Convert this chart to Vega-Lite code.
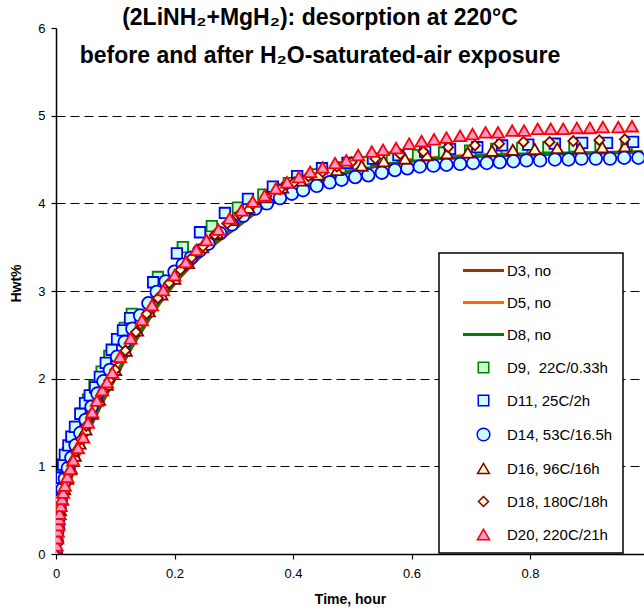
{
  "$schema": "https://vega.github.io/schema/vega-lite/v6.json",
  "width": 588,
  "height": 526,
  "autosize": {"type": "none"},
  "padding": {"left": 56, "top": 28, "right": 0, "bottom": 59},
  "background": "white",
  "title": {
    "text": ["(2LiNH₂+MgH₂): desorption at 220°C", "before and after H₂O-saturated-air exposure"],
    "font": "Liberation Sans",
    "fontSize": 23,
    "fontWeight": "bold",
    "color": "black",
    "anchor": "middle",
    "frame": "group",
    "baseline": "alphabetic",
    "lineHeight": 38,
    "offset": 0,
    "dx": -30,
    "dy": 64
  },
  "datasets": {
    "frame": [{"t": 0, "t2": 0.032}, {"t": 0.898, "t2": 0.9924}],
    "lines": [
      {"s": "D3, no", "t": 0, "h": 0}, {"s": "D3, no", "t": 0.005, "h": 0.3}, {"s": "D3, no", "t": 0.01, "h": 0.45}, {"s": "D3, no", "t": 0.02, "h": 0.72}, {"s": "D3, no", "t": 0.03, "h": 0.96}, {"s": "D3, no", "t": 0.04, "h": 1.15}, {"s": "D3, no", "t": 0.05, "h": 1.32}, {"s": "D3, no", "t": 0.075, "h": 1.68}, {"s": "D3, no", "t": 0.1, "h": 2.0}, {"s": "D3, no", "t": 0.125, "h": 2.32}, {"s": "D3, no", "t": 0.15, "h": 2.6}, {"s": "D3, no", "t": 0.175, "h": 2.86}, {"s": "D3, no", "t": 0.2, "h": 3.08}, {"s": "D3, no", "t": 0.25, "h": 3.43}, {"s": "D3, no", "t": 0.3, "h": 3.7}, {"s": "D3, no", "t": 0.35, "h": 3.95}, {"s": "D3, no", "t": 0.4, "h": 4.12}, {"s": "D3, no", "t": 0.45, "h": 4.26}, {"s": "D3, no", "t": 0.5, "h": 4.36}, {"s": "D3, no", "t": 0.55, "h": 4.43}, {"s": "D3, no", "t": 0.6, "h": 4.48}, {"s": "D3, no", "t": 0.65, "h": 4.51}, {"s": "D3, no", "t": 0.7, "h": 4.53}, {"s": "D3, no", "t": 0.8, "h": 4.55}, {"s": "D3, no", "t": 0.9, "h": 4.57}, {"s": "D3, no", "t": 0.99, "h": 4.58},
      {"s": "D5, no", "t": 0, "h": 0}, {"s": "D5, no", "t": 0.005, "h": 0.32}, {"s": "D5, no", "t": 0.01, "h": 0.48}, {"s": "D5, no", "t": 0.02, "h": 0.76}, {"s": "D5, no", "t": 0.03, "h": 1.0}, {"s": "D5, no", "t": 0.04, "h": 1.19}, {"s": "D5, no", "t": 0.05, "h": 1.36}, {"s": "D5, no", "t": 0.075, "h": 1.72}, {"s": "D5, no", "t": 0.1, "h": 2.04}, {"s": "D5, no", "t": 0.125, "h": 2.36}, {"s": "D5, no", "t": 0.15, "h": 2.64}, {"s": "D5, no", "t": 0.175, "h": 2.9}, {"s": "D5, no", "t": 0.2, "h": 3.12}, {"s": "D5, no", "t": 0.25, "h": 3.47}, {"s": "D5, no", "t": 0.3, "h": 3.73}, {"s": "D5, no", "t": 0.35, "h": 3.97}, {"s": "D5, no", "t": 0.4, "h": 4.14}, {"s": "D5, no", "t": 0.45, "h": 4.28}, {"s": "D5, no", "t": 0.5, "h": 4.38}, {"s": "D5, no", "t": 0.55, "h": 4.45}, {"s": "D5, no", "t": 0.6, "h": 4.5}, {"s": "D5, no", "t": 0.65, "h": 4.53}, {"s": "D5, no", "t": 0.7, "h": 4.55}, {"s": "D5, no", "t": 0.8, "h": 4.57}, {"s": "D5, no", "t": 0.9, "h": 4.58}, {"s": "D5, no", "t": 0.99, "h": 4.59},
      {"s": "D8, no", "t": 0, "h": 0}, {"s": "D8, no", "t": 0.005, "h": 0.31}, {"s": "D8, no", "t": 0.01, "h": 0.47}, {"s": "D8, no", "t": 0.02, "h": 0.74}, {"s": "D8, no", "t": 0.03, "h": 0.98}, {"s": "D8, no", "t": 0.04, "h": 1.17}, {"s": "D8, no", "t": 0.05, "h": 1.34}, {"s": "D8, no", "t": 0.075, "h": 1.7}, {"s": "D8, no", "t": 0.1, "h": 2.02}, {"s": "D8, no", "t": 0.125, "h": 2.34}, {"s": "D8, no", "t": 0.15, "h": 2.62}, {"s": "D8, no", "t": 0.175, "h": 2.88}, {"s": "D8, no", "t": 0.2, "h": 3.1}, {"s": "D8, no", "t": 0.25, "h": 3.45}, {"s": "D8, no", "t": 0.3, "h": 3.72}, {"s": "D8, no", "t": 0.35, "h": 3.96}, {"s": "D8, no", "t": 0.4, "h": 4.13}, {"s": "D8, no", "t": 0.45, "h": 4.27}, {"s": "D8, no", "t": 0.5, "h": 4.37}, {"s": "D8, no", "t": 0.55, "h": 4.44}, {"s": "D8, no", "t": 0.6, "h": 4.49}, {"s": "D8, no", "t": 0.65, "h": 4.52}, {"s": "D8, no", "t": 0.7, "h": 4.54}, {"s": "D8, no", "t": 0.8, "h": 4.56}, {"s": "D8, no", "t": 0.9, "h": 4.575}, {"s": "D8, no", "t": 0.99, "h": 4.585}
    ],
    "pts": [
      {"s": "D9,\u00a0 22C/0.33h", "t": 0, "h": 0}, {"s": "D9,\u00a0 22C/0.33h", "t": 0.002, "h": 0.3}, {"s": "D9,\u00a0 22C/0.33h", "t": 0.004, "h": 0.5}, {"s": "D9,\u00a0 22C/0.33h", "t": 0.007, "h": 0.7}, {"s": "D9,\u00a0 22C/0.33h", "t": 0.01, "h": 0.85}, {"s": "D9,\u00a0 22C/0.33h", "t": 0.014, "h": 1.0}, {"s": "D9,\u00a0 22C/0.33h", "t": 0.02, "h": 1.15}, {"s": "D9,\u00a0 22C/0.33h", "t": 0.027, "h": 1.3}, {"s": "D9,\u00a0 22C/0.33h", "t": 0.035, "h": 1.45}, {"s": "D9,\u00a0 22C/0.33h", "t": 0.044, "h": 1.6}, {"s": "D9,\u00a0 22C/0.33h", "t": 0.054, "h": 1.76}, {"s": "D9,\u00a0 22C/0.33h", "t": 0.065, "h": 1.92}, {"s": "D9,\u00a0 22C/0.33h", "t": 0.077, "h": 2.08}, {"s": "D9,\u00a0 22C/0.33h", "t": 0.09, "h": 2.26}, {"s": "D9,\u00a0 22C/0.33h", "t": 0.104, "h": 2.44}, {"s": "D9,\u00a0 22C/0.33h", "t": 0.116, "h": 2.58}, {"s": "D9,\u00a0 22C/0.33h", "t": 0.128, "h": 2.74}, {"s": "D9,\u00a0 22C/0.33h", "t": 0.172, "h": 3.16}, {"s": "D9,\u00a0 22C/0.33h", "t": 0.214, "h": 3.5}, {"s": "D9,\u00a0 22C/0.33h", "t": 0.263, "h": 3.74}, {"s": "D9,\u00a0 22C/0.33h", "t": 0.307, "h": 3.95}, {"s": "D9,\u00a0 22C/0.33h", "t": 0.35, "h": 4.1}, {"s": "D9,\u00a0 22C/0.33h", "t": 0.393, "h": 4.23}, {"s": "D9,\u00a0 22C/0.33h", "t": 0.436, "h": 4.33}, {"s": "D9,\u00a0 22C/0.33h", "t": 0.48, "h": 4.41}, {"s": "D9,\u00a0 22C/0.33h", "t": 0.523, "h": 4.47}, {"s": "D9,\u00a0 22C/0.33h", "t": 0.567, "h": 4.52}, {"s": "D9,\u00a0 22C/0.33h", "t": 0.611, "h": 4.55}, {"s": "D9,\u00a0 22C/0.33h", "t": 0.655, "h": 4.58}, {"s": "D9,\u00a0 22C/0.33h", "t": 0.699, "h": 4.6}, {"s": "D9,\u00a0 22C/0.33h", "t": 0.743, "h": 4.62}, {"s": "D9,\u00a0 22C/0.33h", "t": 0.787, "h": 4.63}, {"s": "D9,\u00a0 22C/0.33h", "t": 0.831, "h": 4.64}, {"s": "D9,\u00a0 22C/0.33h", "t": 0.875, "h": 4.65}, {"s": "D9,\u00a0 22C/0.33h", "t": 0.919, "h": 4.66}, {"s": "D9,\u00a0 22C/0.33h", "t": 0.963, "h": 4.66},
      {"s": "D11, 25C/2h", "t": 0, "h": 0}, {"s": "D11, 25C/2h", "t": 0.001, "h": 0.2}, {"s": "D11, 25C/2h", "t": 0.002, "h": 0.35}, {"s": "D11, 25C/2h", "t": 0.003, "h": 0.45}, {"s": "D11, 25C/2h", "t": 0.005, "h": 0.6}, {"s": "D11, 25C/2h", "t": 0.007, "h": 0.75}, {"s": "D11, 25C/2h", "t": 0.009, "h": 0.87}, {"s": "D11, 25C/2h", "t": 0.012, "h": 1.02}, {"s": "D11, 25C/2h", "t": 0.015, "h": 1.13}, {"s": "D11, 25C/2h", "t": 0.021, "h": 1.24}, {"s": "D11, 25C/2h", "t": 0.026, "h": 1.34}, {"s": "D11, 25C/2h", "t": 0.032, "h": 1.45}, {"s": "D11, 25C/2h", "t": 0.041, "h": 1.6}, {"s": "D11, 25C/2h", "t": 0.049, "h": 1.72}, {"s": "D11, 25C/2h", "t": 0.057, "h": 1.81}, {"s": "D11, 25C/2h", "t": 0.066, "h": 1.9}, {"s": "D11, 25C/2h", "t": 0.074, "h": 2.02}, {"s": "D11, 25C/2h", "t": 0.084, "h": 2.18}, {"s": "D11, 25C/2h", "t": 0.094, "h": 2.33}, {"s": "D11, 25C/2h", "t": 0.103, "h": 2.45}, {"s": "D11, 25C/2h", "t": 0.113, "h": 2.55}, {"s": "D11, 25C/2h", "t": 0.125, "h": 2.69}, {"s": "D11, 25C/2h", "t": 0.164, "h": 3.1}, {"s": "D11, 25C/2h", "t": 0.204, "h": 3.43}, {"s": "D11, 25C/2h", "t": 0.243, "h": 3.67}, {"s": "D11, 25C/2h", "t": 0.285, "h": 3.89}, {"s": "D11, 25C/2h", "t": 0.324, "h": 4.05}, {"s": "D11, 25C/2h", "t": 0.366, "h": 4.19}, {"s": "D11, 25C/2h", "t": 0.407, "h": 4.31}, {"s": "D11, 25C/2h", "t": 0.449, "h": 4.4}, {"s": "D11, 25C/2h", "t": 0.492, "h": 4.46}, {"s": "D11, 25C/2h", "t": 0.535, "h": 4.51}, {"s": "D11, 25C/2h", "t": 0.578, "h": 4.55}, {"s": "D11, 25C/2h", "t": 0.623, "h": 4.59}, {"s": "D11, 25C/2h", "t": 0.665, "h": 4.62}, {"s": "D11, 25C/2h", "t": 0.711, "h": 4.64}, {"s": "D11, 25C/2h", "t": 0.753, "h": 4.66}, {"s": "D11, 25C/2h", "t": 0.797, "h": 4.67}, {"s": "D11, 25C/2h", "t": 0.842, "h": 4.68}, {"s": "D11, 25C/2h", "t": 0.888, "h": 4.69}, {"s": "D11, 25C/2h", "t": 0.93, "h": 4.69}, {"s": "D11, 25C/2h", "t": 0.974, "h": 4.7},
      {"s": "D14, 53C/16.5h", "t": 0, "h": 0}, {"s": "D14, 53C/16.5h", "t": 0.001, "h": 0.15}, {"s": "D14, 53C/16.5h", "t": 0.002, "h": 0.25}, {"s": "D14, 53C/16.5h", "t": 0.003, "h": 0.33}, {"s": "D14, 53C/16.5h", "t": 0.004, "h": 0.4}, {"s": "D14, 53C/16.5h", "t": 0.006, "h": 0.52}, {"s": "D14, 53C/16.5h", "t": 0.008, "h": 0.62}, {"s": "D14, 53C/16.5h", "t": 0.011, "h": 0.74}, {"s": "D14, 53C/16.5h", "t": 0.015, "h": 0.86}, {"s": "D14, 53C/16.5h", "t": 0.02, "h": 0.98}, {"s": "D14, 53C/16.5h", "t": 0.026, "h": 1.1}, {"s": "D14, 53C/16.5h", "t": 0.033, "h": 1.24}, {"s": "D14, 53C/16.5h", "t": 0.041, "h": 1.38}, {"s": "D14, 53C/16.5h", "t": 0.05, "h": 1.53}, {"s": "D14, 53C/16.5h", "t": 0.06, "h": 1.68}, {"s": "D14, 53C/16.5h", "t": 0.07, "h": 1.83}, {"s": "D14, 53C/16.5h", "t": 0.08, "h": 1.97}, {"s": "D14, 53C/16.5h", "t": 0.091, "h": 2.1}, {"s": "D14, 53C/16.5h", "t": 0.103, "h": 2.25}, {"s": "D14, 53C/16.5h", "t": 0.116, "h": 2.42}, {"s": "D14, 53C/16.5h", "t": 0.129, "h": 2.57}, {"s": "D14, 53C/16.5h", "t": 0.142, "h": 2.72}, {"s": "D14, 53C/16.5h", "t": 0.156, "h": 2.86}, {"s": "D14, 53C/16.5h", "t": 0.17, "h": 2.99}, {"s": "D14, 53C/16.5h", "t": 0.185, "h": 3.11}, {"s": "D14, 53C/16.5h", "t": 0.2, "h": 3.22}, {"s": "D14, 53C/16.5h", "t": 0.214, "h": 3.3}, {"s": "D14, 53C/16.5h", "t": 0.228, "h": 3.38}, {"s": "D14, 53C/16.5h", "t": 0.242, "h": 3.46}, {"s": "D14, 53C/16.5h", "t": 0.257, "h": 3.54}, {"s": "D14, 53C/16.5h", "t": 0.277, "h": 3.66}, {"s": "D14, 53C/16.5h", "t": 0.297, "h": 3.76}, {"s": "D14, 53C/16.5h", "t": 0.316, "h": 3.86}, {"s": "D14, 53C/16.5h", "t": 0.336, "h": 3.94}, {"s": "D14, 53C/16.5h", "t": 0.356, "h": 4.0}, {"s": "D14, 53C/16.5h", "t": 0.378, "h": 4.06}, {"s": "D14, 53C/16.5h", "t": 0.398, "h": 4.11}, {"s": "D14, 53C/16.5h", "t": 0.417, "h": 4.15}, {"s": "D14, 53C/16.5h", "t": 0.44, "h": 4.2}, {"s": "D14, 53C/16.5h", "t": 0.462, "h": 4.24}, {"s": "D14, 53C/16.5h", "t": 0.482, "h": 4.27}, {"s": "D14, 53C/16.5h", "t": 0.505, "h": 4.3}, {"s": "D14, 53C/16.5h", "t": 0.527, "h": 4.32}, {"s": "D14, 53C/16.5h", "t": 0.55, "h": 4.35}, {"s": "D14, 53C/16.5h", "t": 0.572, "h": 4.38}, {"s": "D14, 53C/16.5h", "t": 0.593, "h": 4.4}, {"s": "D14, 53C/16.5h", "t": 0.614, "h": 4.42}, {"s": "D14, 53C/16.5h", "t": 0.637, "h": 4.43}, {"s": "D14, 53C/16.5h", "t": 0.659, "h": 4.44}, {"s": "D14, 53C/16.5h", "t": 0.682, "h": 4.45}, {"s": "D14, 53C/16.5h", "t": 0.704, "h": 4.46}, {"s": "D14, 53C/16.5h", "t": 0.727, "h": 4.46}, {"s": "D14, 53C/16.5h", "t": 0.749, "h": 4.47}, {"s": "D14, 53C/16.5h", "t": 0.772, "h": 4.48}, {"s": "D14, 53C/16.5h", "t": 0.794, "h": 4.49}, {"s": "D14, 53C/16.5h", "t": 0.817, "h": 4.49}, {"s": "D14, 53C/16.5h", "t": 0.842, "h": 4.5}, {"s": "D14, 53C/16.5h", "t": 0.865, "h": 4.5}, {"s": "D14, 53C/16.5h", "t": 0.887, "h": 4.51}, {"s": "D14, 53C/16.5h", "t": 0.911, "h": 4.51}, {"s": "D14, 53C/16.5h", "t": 0.935, "h": 4.51}, {"s": "D14, 53C/16.5h", "t": 0.959, "h": 4.52}, {"s": "D14, 53C/16.5h", "t": 0.983, "h": 4.52},
      {"s": "D16, 96C/16h", "t": 0, "h": 0}, {"s": "D16, 96C/16h", "t": 0.002, "h": 0.2}, {"s": "D16, 96C/16h", "t": 0.004, "h": 0.35}, {"s": "D16, 96C/16h", "t": 0.007, "h": 0.5}, {"s": "D16, 96C/16h", "t": 0.01, "h": 0.62}, {"s": "D16, 96C/16h", "t": 0.014, "h": 0.74}, {"s": "D16, 96C/16h", "t": 0.019, "h": 0.86}, {"s": "D16, 96C/16h", "t": 0.025, "h": 0.98}, {"s": "D16, 96C/16h", "t": 0.032, "h": 1.12}, {"s": "D16, 96C/16h", "t": 0.04, "h": 1.26}, {"s": "D16, 96C/16h", "t": 0.05, "h": 1.42}, {"s": "D16, 96C/16h", "t": 0.061, "h": 1.6}, {"s": "D16, 96C/16h", "t": 0.073, "h": 1.76}, {"s": "D16, 96C/16h", "t": 0.086, "h": 1.93}, {"s": "D16, 96C/16h", "t": 0.1, "h": 2.1}, {"s": "D16, 96C/16h", "t": 0.118, "h": 2.32}, {"s": "D16, 96C/16h", "t": 0.137, "h": 2.55}, {"s": "D16, 96C/16h", "t": 0.157, "h": 2.77}, {"s": "D16, 96C/16h", "t": 0.178, "h": 2.96}, {"s": "D16, 96C/16h", "t": 0.2, "h": 3.14}, {"s": "D16, 96C/16h", "t": 0.223, "h": 3.32}, {"s": "D16, 96C/16h", "t": 0.247, "h": 3.5}, {"s": "D16, 96C/16h", "t": 0.272, "h": 3.66}, {"s": "D16, 96C/16h", "t": 0.298, "h": 3.81}, {"s": "D16, 96C/16h", "t": 0.325, "h": 3.95}, {"s": "D16, 96C/16h", "t": 0.353, "h": 4.07}, {"s": "D16, 96C/16h", "t": 0.382, "h": 4.18}, {"s": "D16, 96C/16h", "t": 0.412, "h": 4.26}, {"s": "D16, 96C/16h", "t": 0.443, "h": 4.33}, {"s": "D16, 96C/16h", "t": 0.474, "h": 4.38}, {"s": "D16, 96C/16h", "t": 0.516, "h": 4.43}, {"s": "D16, 96C/16h", "t": 0.553, "h": 4.48}, {"s": "D16, 96C/16h", "t": 0.589, "h": 4.51}, {"s": "D16, 96C/16h", "t": 0.626, "h": 4.55}, {"s": "D16, 96C/16h", "t": 0.66, "h": 4.57}, {"s": "D16, 96C/16h", "t": 0.695, "h": 4.58}, {"s": "D16, 96C/16h", "t": 0.736, "h": 4.6}, {"s": "D16, 96C/16h", "t": 0.771, "h": 4.61}, {"s": "D16, 96C/16h", "t": 0.808, "h": 4.62}, {"s": "D16, 96C/16h", "t": 0.846, "h": 4.63}, {"s": "D16, 96C/16h", "t": 0.884, "h": 4.63}, {"s": "D16, 96C/16h", "t": 0.922, "h": 4.64}, {"s": "D16, 96C/16h", "t": 0.96, "h": 4.65},
      {"s": "D18, 180C/18h", "t": 0, "h": 0}, {"s": "D18, 180C/18h", "t": 0.002, "h": 0.18}, {"s": "D18, 180C/18h", "t": 0.004, "h": 0.33}, {"s": "D18, 180C/18h", "t": 0.006, "h": 0.45}, {"s": "D18, 180C/18h", "t": 0.009, "h": 0.58}, {"s": "D18, 180C/18h", "t": 0.012, "h": 0.68}, {"s": "D18, 180C/18h", "t": 0.016, "h": 0.8}, {"s": "D18, 180C/18h", "t": 0.021, "h": 0.91}, {"s": "D18, 180C/18h", "t": 0.027, "h": 1.04}, {"s": "D18, 180C/18h", "t": 0.034, "h": 1.17}, {"s": "D18, 180C/18h", "t": 0.042, "h": 1.31}, {"s": "D18, 180C/18h", "t": 0.051, "h": 1.46}, {"s": "D18, 180C/18h", "t": 0.06, "h": 1.6}, {"s": "D18, 180C/18h", "t": 0.07, "h": 1.74}, {"s": "D18, 180C/18h", "t": 0.08, "h": 1.86}, {"s": "D18, 180C/18h", "t": 0.09, "h": 1.98}, {"s": "D18, 180C/18h", "t": 0.1, "h": 2.1}, {"s": "D18, 180C/18h", "t": 0.117, "h": 2.32}, {"s": "D18, 180C/18h", "t": 0.135, "h": 2.53}, {"s": "D18, 180C/18h", "t": 0.153, "h": 2.74}, {"s": "D18, 180C/18h", "t": 0.172, "h": 2.92}, {"s": "D18, 180C/18h", "t": 0.191, "h": 3.09}, {"s": "D18, 180C/18h", "t": 0.21, "h": 3.24}, {"s": "D18, 180C/18h", "t": 0.229, "h": 3.38}, {"s": "D18, 180C/18h", "t": 0.248, "h": 3.51}, {"s": "D18, 180C/18h", "t": 0.268, "h": 3.64}, {"s": "D18, 180C/18h", "t": 0.289, "h": 3.77}, {"s": "D18, 180C/18h", "t": 0.31, "h": 3.88}, {"s": "D18, 180C/18h", "t": 0.332, "h": 3.99}, {"s": "D18, 180C/18h", "t": 0.355, "h": 4.08}, {"s": "D18, 180C/18h", "t": 0.378, "h": 4.16}, {"s": "D18, 180C/18h", "t": 0.402, "h": 4.24}, {"s": "D18, 180C/18h", "t": 0.426, "h": 4.31}, {"s": "D18, 180C/18h", "t": 0.45, "h": 4.36}, {"s": "D18, 180C/18h", "t": 0.474, "h": 4.42}, {"s": "D18, 180C/18h", "t": 0.499, "h": 4.47}, {"s": "D18, 180C/18h", "t": 0.539, "h": 4.51}, {"s": "D18, 180C/18h", "t": 0.581, "h": 4.56}, {"s": "D18, 180C/18h", "t": 0.62, "h": 4.59}, {"s": "D18, 180C/18h", "t": 0.662, "h": 4.64}, {"s": "D18, 180C/18h", "t": 0.707, "h": 4.66}, {"s": "D18, 180C/18h", "t": 0.748, "h": 4.68}, {"s": "D18, 180C/18h", "t": 0.789, "h": 4.7}, {"s": "D18, 180C/18h", "t": 0.833, "h": 4.7}, {"s": "D18, 180C/18h", "t": 0.873, "h": 4.71}, {"s": "D18, 180C/18h", "t": 0.917, "h": 4.72}, {"s": "D18, 180C/18h", "t": 0.96, "h": 4.73},
      {"s": "D20, 220C/21h", "t": 0, "h": 0}, {"s": "D20, 220C/21h", "t": 0.001, "h": 0.1}, {"s": "D20, 220C/21h", "t": 0.002, "h": 0.18}, {"s": "D20, 220C/21h", "t": 0.003, "h": 0.26}, {"s": "D20, 220C/21h", "t": 0.004, "h": 0.33}, {"s": "D20, 220C/21h", "t": 0.005, "h": 0.4}, {"s": "D20, 220C/21h", "t": 0.006, "h": 0.46}, {"s": "D20, 220C/21h", "t": 0.008, "h": 0.55}, {"s": "D20, 220C/21h", "t": 0.01, "h": 0.63}, {"s": "D20, 220C/21h", "t": 0.012, "h": 0.7}, {"s": "D20, 220C/21h", "t": 0.015, "h": 0.78}, {"s": "D20, 220C/21h", "t": 0.019, "h": 0.88}, {"s": "D20, 220C/21h", "t": 0.024, "h": 0.97}, {"s": "D20, 220C/21h", "t": 0.029, "h": 1.07}, {"s": "D20, 220C/21h", "t": 0.037, "h": 1.21}, {"s": "D20, 220C/21h", "t": 0.046, "h": 1.33}, {"s": "D20, 220C/21h", "t": 0.054, "h": 1.5}, {"s": "D20, 220C/21h", "t": 0.061, "h": 1.62}, {"s": "D20, 220C/21h", "t": 0.069, "h": 1.75}, {"s": "D20, 220C/21h", "t": 0.078, "h": 1.87}, {"s": "D20, 220C/21h", "t": 0.086, "h": 1.96}, {"s": "D20, 220C/21h", "t": 0.095, "h": 2.07}, {"s": "D20, 220C/21h", "t": 0.108, "h": 2.25}, {"s": "D20, 220C/21h", "t": 0.126, "h": 2.46}, {"s": "D20, 220C/21h", "t": 0.145, "h": 2.67}, {"s": "D20, 220C/21h", "t": 0.162, "h": 2.84}, {"s": "D20, 220C/21h", "t": 0.181, "h": 3.01}, {"s": "D20, 220C/21h", "t": 0.2, "h": 3.18}, {"s": "D20, 220C/21h", "t": 0.219, "h": 3.33}, {"s": "D20, 220C/21h", "t": 0.237, "h": 3.47}, {"s": "D20, 220C/21h", "t": 0.254, "h": 3.58}, {"s": "D20, 220C/21h", "t": 0.274, "h": 3.7}, {"s": "D20, 220C/21h", "t": 0.293, "h": 3.83}, {"s": "D20, 220C/21h", "t": 0.313, "h": 3.92}, {"s": "D20, 220C/21h", "t": 0.332, "h": 4.02}, {"s": "D20, 220C/21h", "t": 0.352, "h": 4.09}, {"s": "D20, 220C/21h", "t": 0.371, "h": 4.17}, {"s": "D20, 220C/21h", "t": 0.39, "h": 4.24}, {"s": "D20, 220C/21h", "t": 0.41, "h": 4.3}, {"s": "D20, 220C/21h", "t": 0.429, "h": 4.36}, {"s": "D20, 220C/21h", "t": 0.45, "h": 4.41}, {"s": "D20, 220C/21h", "t": 0.471, "h": 4.46}, {"s": "D20, 220C/21h", "t": 0.49, "h": 4.49}, {"s": "D20, 220C/21h", "t": 0.51, "h": 4.55}, {"s": "D20, 220C/21h", "t": 0.533, "h": 4.59}, {"s": "D20, 220C/21h", "t": 0.552, "h": 4.61}, {"s": "D20, 220C/21h", "t": 0.574, "h": 4.63}, {"s": "D20, 220C/21h", "t": 0.596, "h": 4.68}, {"s": "D20, 220C/21h", "t": 0.617, "h": 4.71}, {"s": "D20, 220C/21h", "t": 0.638, "h": 4.73}, {"s": "D20, 220C/21h", "t": 0.659, "h": 4.75}, {"s": "D20, 220C/21h", "t": 0.682, "h": 4.77}, {"s": "D20, 220C/21h", "t": 0.703, "h": 4.79}, {"s": "D20, 220C/21h", "t": 0.725, "h": 4.81}, {"s": "D20, 220C/21h", "t": 0.746, "h": 4.81}, {"s": "D20, 220C/21h", "t": 0.77, "h": 4.83}, {"s": "D20, 220C/21h", "t": 0.79, "h": 4.83}, {"s": "D20, 220C/21h", "t": 0.813, "h": 4.85}, {"s": "D20, 220C/21h", "t": 0.835, "h": 4.85}, {"s": "D20, 220C/21h", "t": 0.856, "h": 4.85}, {"s": "D20, 220C/21h", "t": 0.879, "h": 4.86}, {"s": "D20, 220C/21h", "t": 0.901, "h": 4.86}, {"s": "D20, 220C/21h", "t": 0.923, "h": 4.87}, {"s": "D20, 220C/21h", "t": 0.949, "h": 4.87}, {"s": "D20, 220C/21h", "t": 0.972, "h": 4.88}
    ]
  },
  "encoding": {
    "x": {
      "field": "t", "type": "quantitative",
      "scale": {"domain": [0, 0.9924], "nice": false, "zero": false},
      "axis": {
        "values": [0, 0.2, 0.4, 0.6, 0.8],
        "labelExpr": "datum.value == 0 ? '0' : format(datum.value, '.1f')",
        "title": "Time, hour",
        "tickSize": 5, "labelPadding": 8, "labelFontSize": 13, "labelFlush": false,
        "grid": false, "titleFontSize": 14, "titleFontWeight": "bold", "titlePadding": 12
      }
    },
    "y": {
      "field": "h", "type": "quantitative",
      "scale": {"domain": [0, 6], "nice": false},
      "axis": {
        "values": [0, 1, 2, 3, 4, 5, 6],
        "title": "Hwt%",
        "tickSize": 5, "labelPadding": 6, "labelFontSize": 13, "labelFlush": false,
        "grid": true, "gridColor": "black", "gridDash": [9, 5], "gridWidth": 1.2,
        "gridOpacity": {"condition": {"test": "datum.value > 0 && datum.value < 6", "value": 1}, "value": 0},
        "titleFontSize": 14, "titleFontWeight": "bold", "titlePadding": 14, "titleY": 255
      }
    },
    "stroke": {
      "field": "s", "type": "nominal",
      "scale": {"domain": ["D3, no", "D5, no", "D8, no", "D9,\u00a0 22C/0.33h", "D11, 25C/2h", "D14, 53C/16.5h", "D16, 96C/16h", "D18, 180C/18h", "D20, 220C/21h"],
                "range": ["#993300", "#FF6600", "#008000", "#008000", "#0000FF", "#0000FF", "#800000", "#800000", "#FF0000"]},
      "legend": {
        "title": null,
        "symbolSize": 1681,
        "encode": {
          "symbols": {
            "update": {
              "shape": {"signal": "scale('shape', datum.value)"},
              "fill": {"signal": "scale('fill', datum.value)"},
              "size": {"signal": "indexof(['D3, no','D5, no','D8, no'], datum.value) >= 0 ? 1681 : 90"},
              "strokeWidth": {"signal": "indexof(['D3, no','D5, no','D8, no'], datum.value) >= 0 ? 3 : 1.5"},
              "opacity": {"value": 1}
            }
          }
        }
      }
    }
  },
  "layer": [
    {
      "data": {"name": "frame"},
      "mark": {"type": "rule", "color": "black", "strokeWidth": 1.5},
      "encoding": {"x2": {"field": "t2"}, "y": {"datum": 6}, "stroke": {"value": "black"}}
    },
    {
      "data": {"name": "lines"},
      "mark": {"type": "line", "interpolate": "monotone", "clip": true, "strokeWidth": 3}
    },
    {
      "data": {"name": "pts"},
      "mark": {"type": "point", "filled": true, "clip": true, "opacity": 1, "strokeWidth": 1.8},
      "encoding": {
        "fill": {
          "field": "s", "type": "nominal",
          "scale": {"domain": ["D3, no", "D5, no", "D8, no", "D9,\u00a0 22C/0.33h", "D11, 25C/2h", "D14, 53C/16.5h", "D16, 96C/16h", "D18, 180C/18h", "D20, 220C/21h"],
                    "range": ["#ffffff", "#ffffff", "#ffffff", "#CCFFCC", "#CCFFFF", "#CCFFFF", "#FFFFCC", "#FFFFCC", "#FF99CC"]},
          "legend": null
        },
        "shape": {
          "field": "s", "type": "nominal",
          "scale": {"domain": ["D3, no", "D5, no", "D8, no", "D9,\u00a0 22C/0.33h", "D11, 25C/2h", "D14, 53C/16.5h", "D16, 96C/16h", "D18, 180C/18h", "D20, 220C/21h"],
                    "range": ["stroke", "stroke", "stroke", "square", "square", "circle", "triangle-up", "diamond", "triangle-up"]},
          "legend": null
        },
        "size": {
          "field": "s", "type": "nominal",
          "scale": {"type": "ordinal", "domain": ["D3, no", "D5, no", "D8, no", "D9,\u00a0 22C/0.33h", "D11, 25C/2h", "D14, 53C/16.5h", "D16, 96C/16h", "D18, 180C/18h", "D20, 220C/21h"],
                    "range": [1681, 1681, 1681, 110, 110, 160, 140, 100, 150]},
          "legend": null
        }
      }
    }
  ],
  "config": {
    "font": "Liberation Sans",
    "view": {"stroke": null},
    "axis": {"domainColor": "black", "domainWidth": 1.5, "tickColor": "black", "tickWidth": 1.2, "labelColor": "black", "titleColor": "black", "labelFont": "Liberation Sans", "titleFont": "Liberation Sans"},
    "legend": {
      "orient": "none", "legendX": 383, "legendY": 225,
      "strokeColor": "black", "strokeWidth": 1.5, "fillColor": "white", "padding": 10,
      "labelFontSize": 15, "labelFont": "Liberation Sans", "labelColor": "black", "labelOffset": 16,
      "rowPadding": 16, "symbolOffset": 27, "labelLimit": 300
    }
  }
}
